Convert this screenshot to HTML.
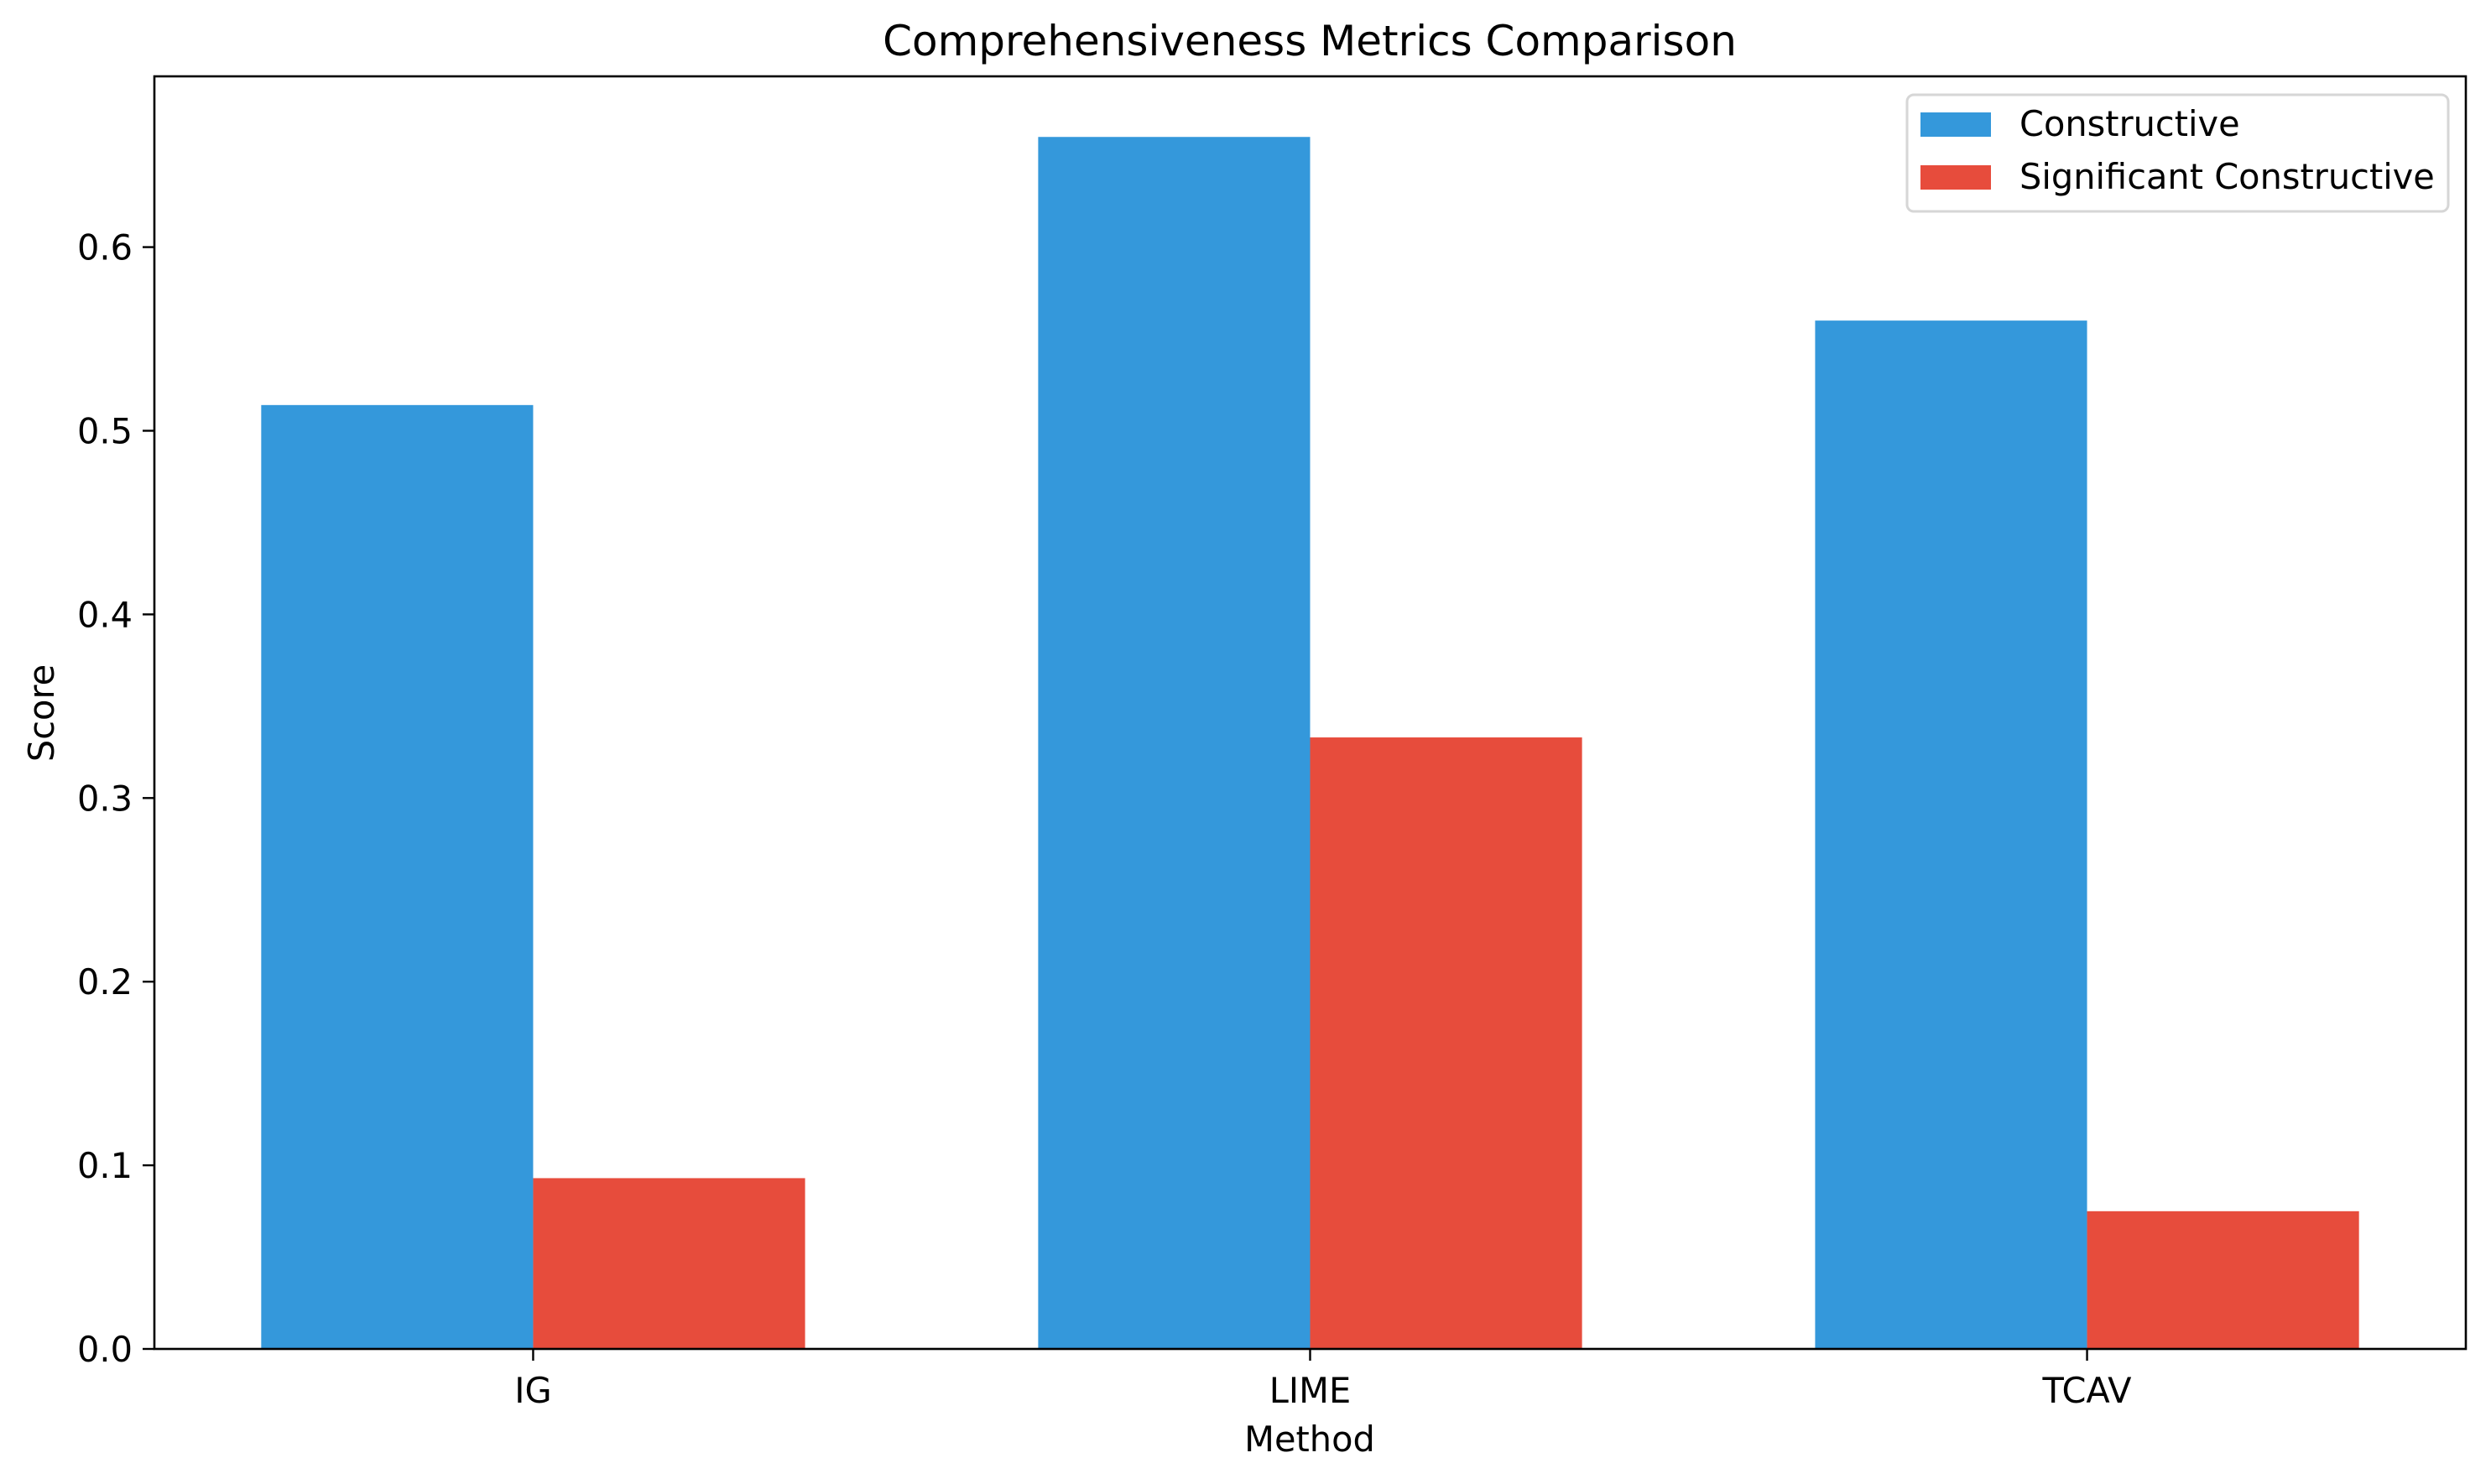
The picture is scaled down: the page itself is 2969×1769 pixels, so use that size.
<!DOCTYPE html>
<html><head><meta charset="utf-8"><style>
html,body{margin:0;padding:0;background:#fff;}
svg{display:block;font-family:"DejaVu Sans","Liberation Sans",sans-serif;}
</style></head><body>
<svg id="chart" width="2969" height="1769" viewBox="0 0 2969 1769">
<rect x="0" y="0" width="2969" height="1769" fill="#fff"/>
<g id="bars"></g>
<g id="axes"></g>
<text x="1561" y="66" text-anchor="middle" font-size="50">Comprehensiveness Metrics Comparison</text>
<text x="1561" y="1730" text-anchor="middle" font-size="41.5">Method</text>
<text transform="translate(64,850) rotate(-90)" text-anchor="middle" font-size="41.5">Score</text>
<g>
<rect x="2273" y="113" width="645" height="139" rx="8" fill="#fff" stroke="#d6d6d6" stroke-width="3"/>
<g>
<rect x="2289" y="134" width="84" height="29" fill="#3498db"/>
<text x="2407" y="162" font-size="41.5">Constructive</text></g>
<g>
<rect x="2289" y="197" width="84" height="29" fill="#e74c3c"/>
<text x="2407" y="225" font-size="41.5">Significant Constructive</text></g>
</g>
</svg>
<script>
const categories = ["IG", "LIME", "TCAV"];
const constructive = [0.514, 0.660, 0.560];
const significant = [0.093, 0.333, 0.075];
const yTicks = [0.0, 0.1, 0.2, 0.3, 0.4, 0.5, 0.6];
const yTickLabels = ["0.0", "0.1", "0.2", "0.3", "0.4", "0.5", "0.6"];

const NS = "http://www.w3.org/2000/svg";
const L = 184, R = 2939, T = 91, B = 1608;
const barW = 0.35;
const xmin = -0.4875, xmax = categories.length - 1 + 0.4875;
const ymax = Math.max(...constructive, ...significant) * 1.05;
const xs = v => L + (v - xmin) / (xmax - xmin) * (R - L);
const ys = v => B - v / ymax * (B - T);
function mk(tag, attrs, parent) { const e = document.createElementNS(NS, tag); for (const k in attrs) e.setAttribute(k, attrs[k]); parent.appendChild(e); return e; }
const gb = document.getElementById("bars"), ga = document.getElementById("axes");
categories.forEach((c, i) => {
  const b1 = mk("rect", {x: xs(i - barW), y: ys(constructive[i]), width: xs(i) - xs(i - barW), height: B - ys(constructive[i]), fill: "#3498db"}, gb);
  
  
  const b2 = mk("rect", {x: xs(i), y: ys(significant[i]), width: xs(i + barW) - xs(i), height: B - ys(significant[i]), fill: "#e74c3c"}, gb);
  
  
  const t = mk("line", {x1: xs(i), x2: xs(i), y1: B, y2: B + 14, stroke: "#000", "stroke-width": 2.4}, ga);
  
  
  const lb = mk("text", {x: xs(i), y: 1672, "text-anchor": "middle", "font-size": 41.5}, ga);
  lb.textContent = c;
  
  
});
yTicks.forEach((v, i) => {
  const t = mk("line", {x1: L - 14, x2: L, y1: ys(v), y2: ys(v), stroke: "#000", "stroke-width": 2.4}, ga);
  
  
  const lb = mk("text", {x: L - 26, y: ys(v) + 15, "text-anchor": "end", "font-size": 41.5}, ga);
  lb.textContent = yTickLabels[i];
  
  
});
const frame = mk("rect", {x: L, y: T, width: R - L, height: B - T, fill: "none", stroke: "#000", "stroke-width": 2.6}, ga);


</script>
</body></html>
